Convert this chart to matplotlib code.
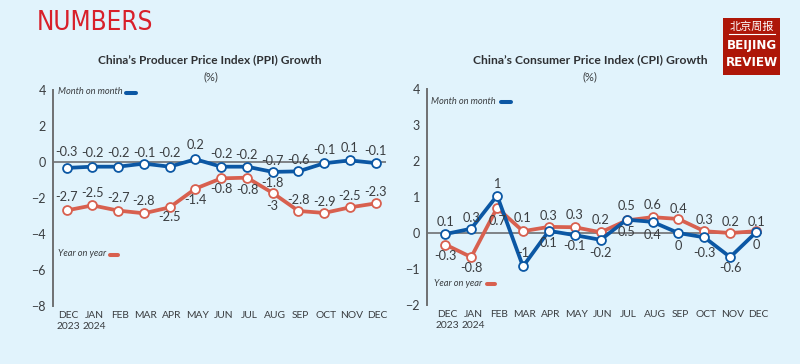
import matplotlib
matplotlib.use("Agg")
import matplotlib.pyplot as plt
from matplotlib.lines import Line2D
from matplotlib.patches import Rectangle
from matplotlib.transforms import ScaledTranslation
import numpy as np

# --- DATA ---
months = ['DEC\n2023', 'JAN\n2024', 'FEB', 'MAR', 'APR', 'MAY', 'JUN', 'JUL', 'AUG', 'SEP', 'OCT', 'NOV', 'DEC']

ppi_mom = [-0.33, -0.26, -0.26, -0.09, -0.26, 0.15, -0.26, -0.26, -0.55, -0.52, -0.07, 0.09, -0.06]
ppi_yoy = [-2.69, -2.41, -2.7, -2.85, -2.52, -1.48, -0.91, -0.87, -1.72, -2.72, -2.83, -2.52, -2.3]
ppi_mom_labels = ['-0.3', '-0.2', '-0.2', '-0.1', '-0.2', '0.2', '-0.2', '-0.2', '-0.7', '-0.6', '-0.1', '0.1', '-0.1']
ppi_yoy_labels = ['-2.7', '-2.5', '-2.7', '-2.8', '-2.5', '-1.4', '-0.8', '-0.8', '-1.8', '-2.8', '-2.9', '-2.5', '-2.3']

cpi_mom = [-0.03, 0.12, 1.04, -0.93, 0.06, -0.06, -0.19, 0.37, 0.31, 0.0, -0.12, -0.67, 0.02]
cpi_yoy = [-0.32, -0.67, 0.7, 0.05, 0.17, 0.16, 0.02, 0.35, 0.44, 0.39, 0.05, 0.0, 0.05]
cpi_mom_labels = ['0.1', '0.3', '1', '-1', '0.1', '-0.1', '-0.2', '0.5', '0.4', '0', '-0.3', '-0.6', '0']
cpi_yoy_labels = ['-0.3', '-0.8', '0.7', '0.1', '0.3', '0.3', '0.2', '0.5', '0.6', '0.4', '0.3', '0.2', '0.1']

# label offsets above (+) or below (-) each point, pixels
ppi_mom_dy = [16, 14, 14, 11, 14, 14, 13, 12, 11, 11, 13, 12, 12]
ppi_yoy_dy = [13, 12, 13, 12, -10, -11, -11, -12, 10, 11, 11, 11, 11]
cpi_mom_dy = [12, 11, 12, 13, -12, -11, -13, -12, -13, -13, -16, -11, -13]
cpi_yoy_dy = [-11, -11, -13, 13, 11, 12, 12, 14, 12, 10, 11, 11, 9]

# --- STYLE ---
BG = '#E1F3FC'
BLUE = '#0B57A4'
RED = '#D8604F'
TEXT = '#3A3D40'
AXIS = '#6E7072'
W, H = 800, 364
FONT = 'Lato'

plt.rcParams['font.family'] = [FONT, 'DejaVu Sans']

fig = plt.figure(figsize=(W / 100, H / 100), dpi=100, facecolor=BG)


def add_panel(left, right, top, bottom, first, step, ylim, yticks):
    ax = fig.add_axes([left / W, 1 - bottom / H, (right - left) / W, (bottom - top) / H])
    ax.set_facecolor('none')
    ax.set_xlim((left - first) / step, (right - first) / step)
    ax.set_ylim(*ylim)
    for side in ['top', 'right', 'bottom']:
        ax.spines[side].set_visible(False)
    ax.spines['left'].set_color(AXIS)
    ax.spines['left'].set_linewidth(1.4)
    ax.axhline(0, color=AXIS, lw=1.2, zorder=1)
    ax.set_yticks(yticks)
    ax.set_xticks(np.arange(len(months)))
    ax.set_xticklabels(months, fontsize=7.4, color=TEXT, linespacing=1.3)
    ax.tick_params(axis='both', length=0)
    ax.tick_params(axis='x', pad=3.5)
    ax.tick_params(axis='y', pad=5, labelsize=9, labelcolor=TEXT)
    # month labels sit slightly right of their points
    for lab in ax.get_xticklabels():
        lab.set_transform(lab.get_transform() + ScaledTranslation(0.02, 0, fig.dpi_scale_trans))
    return ax


def draw_series(ax, values, labels, dy, color, z):
    x = np.arange(len(values))
    ax.plot(x, values, color=color, lw=2.7, solid_joinstyle='round', marker='o', ms=6.4,
            mfc='white', mec=color, mew=1.3, zorder=z, clip_on=False)
    for xi, v, s, d in zip(x, values, labels, dy):
        ax.annotate(s, (xi, v), xytext=(0, d), textcoords='offset pixels', ha='center', va='center',
                    fontsize=9.2, color=TEXT, zorder=5)


def add_key(text, tx, ty, x0, x1, y, color):
    fig.text(tx / W, 1 - ty / H, text, fontsize=6.7, style='italic', color=TEXT, va='center', ha='left')
    fig.add_artist(Line2D([x0 / W, x1 / W], [1 - y / H, 1 - y / H], color=color, lw=2.9,
                          solid_capstyle='round'))


# --- LEFT PANEL ---
ax1 = add_panel(53, 386, 90, 306, 66.7, 25.75, (-8, 4), [-8, -6, -4, -2, 0, 2, 4])
draw_series(ax1, ppi_yoy, ppi_yoy_labels, ppi_yoy_dy, RED, 3)
draw_series(ax1, ppi_mom, ppi_mom_labels, ppi_mom_dy, BLUE, 4)
ax1.annotate('-3', (8, ppi_yoy[8]), xytext=(0, -13), textcoords='offset pixels', ha='center', va='center',
             fontsize=9.2, color=TEXT)
add_key('Month on month', 58, 92, 126, 136, 93, BLUE)
add_key('Year on year', 58, 254, 110, 118, 254.5, RED)

# --- RIGHT PANEL ---
ax2 = add_panel(427, 762, 89, 305, 445.3, 25.9, (-2, 4), [-2, -1, 0, 1, 2, 3, 4])
draw_series(ax2, cpi_yoy, cpi_yoy_labels, cpi_yoy_dy, RED, 3)
draw_series(ax2, cpi_mom, cpi_mom_labels, cpi_mom_dy, BLUE, 4)
add_key('Month on month', 431, 101, 501, 511, 102, BLUE)
add_key('Year on year', 434, 284, 487, 495, 284, RED)

# --- TITLES ---
fig.text(210 / W, 1 - 60 / H, "China\u2019s Producer Price Index (PPI) Growth", fontsize=8.6, weight='bold',
         color='#2E3033', ha='center', va='center')
fig.text(210.5 / W, 1 - 77 / H, '(%)', fontsize=8, color=TEXT, ha='center', va='center')
fig.text(590 / W, 1 - 60 / H, "China\u2019s Consumer Price Index (CPI) Growth", fontsize=8.7, weight='bold',
         color='#2E3033', ha='center', va='center')
fig.text(590 / W, 1 - 77 / H, '(%)', fontsize=8, color=TEXT, ha='center', va='center')

fig.text(37 / W, 1 - 23 / H, 'NUMBERS', fontsize=18.7, color='#D8202A', family='DejaVu Sans', stretch='condensed',
         ha='left', va='center')

# --- LOGO ---
fig.add_artist(Rectangle((723 / W, 1 - 74.5 / H), 57 / W, 57 / H, transform=fig.transFigure,
                         facecolor='#AE1608', edgecolor='none'))
fig.text(751.5 / W, 1 - 27 / H, '北京周报', fontsize=8, color='white', ha='center', va='center',
         family=['Noto Sans CJK SC', 'DejaVu Sans'])
fig.add_artist(Line2D([729 / W, 775 / W], [1 - 34 / H, 1 - 34 / H], color='white', lw=0.8))
fig.text(751.5 / W, 1 - 45 / H, 'BEIJING', fontsize=9.5, weight='bold', color='white', ha='center', va='center',
         family='DejaVu Sans', stretch='condensed')
fig.text(751.5 / W, 1 - 62.5 / H, 'REVIEW', fontsize=9.5, weight='bold', color='white', ha='center', va='center',
         family='DejaVu Sans', stretch='condensed')

fig.savefig('out.png', dpi=100, facecolor=BG)
